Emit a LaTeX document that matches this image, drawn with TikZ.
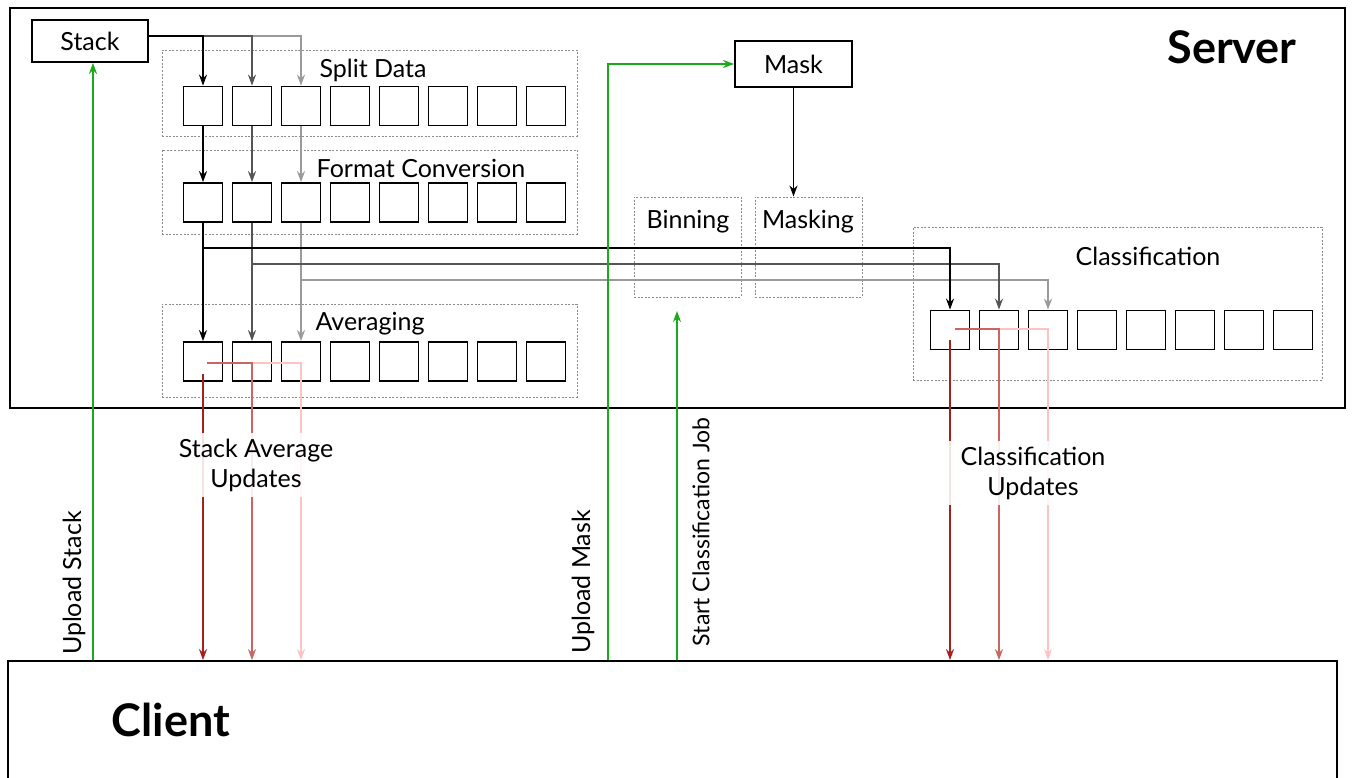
\documentclass[tikz,border=0pt]{standalone}
\usepackage{fontspec}
\setmainfont{Lato}
\usetikzlibrary{arrows.meta,calc}
\definecolor{gA}{HTML}{000000}
\definecolor{gB}{HTML}{555555}
\definecolor{gC}{HTML}{9A9A9A}
\definecolor{rA}{HTML}{A3221E}
\definecolor{rB}{HTML}{CC6464}
\definecolor{rC}{HTML}{FFC2C2}
\definecolor{grn}{HTML}{1AAA1A}
\definecolor{dashc}{HTML}{8A8A8A}
\begin{document}
\begin{tikzpicture}[x=1pt,y=-1pt,
  cell/.style={draw, line width=1.8pt, minimum width=39pt, minimum height=39pt, inner sep=0pt, fill=white},
  grp/.style={draw=dashc, line width=1pt, dash pattern=on 2pt off 1.6pt, inner sep=0pt},
  lbl/.style={font=\fontsize{25}{30}\selectfont, inner sep=1pt},
  big/.style={font=\fontsize{45}{50}\selectfont\bfseries, inner sep=0pt},
  solid box/.style={draw, line width=1.8pt, inner sep=0pt, font=\fontsize{25}{30}\selectfont},
  arr/.style={-{Stealth[length=11pt,width=8pt]}, line width=1.8pt},
  upd/.style={lbl, align=center, fill=white, fill opacity=0.88, text opacity=1, inner xsep=16pt, inner ysep=6pt},
  vlbl/.style={lbl, rotate=90}
]
\useasboundingbox (0,0) rectangle (1353,777);
% main frames
\node[draw, line width=1.8pt, minimum width=1335pt, minimum height=400pt, inner sep=0pt] (server) at (677.5,208) {};
\node[draw, line width=1.8pt, minimum width=1329pt, minimum height=160pt, inner sep=0pt] (client) at (672.5,741) {};
\node[big] (servertxt) at (1232,47) {Server};
\node[big] (clienttxt) at (171,720) {Client};

% group frames
\node[grp, minimum width=415pt, minimum height=86pt] (gsplit) at (369.5,93) {};
\node[grp, minimum width=415pt, minimum height=84pt] (gformat) at (369.5,192) {};
\node[grp, minimum width=415pt, minimum height=93pt] (gavg) at (369.5,350.5) {};
\node[grp, minimum width=107pt, minimum height=100pt] (binning) at (687.5,247) {};
\node[grp, minimum width=107pt, minimum height=100pt] (masking) at (808.5,247) {};
\node[grp, minimum width=409pt, minimum height=153pt] (gclass) at (1117.5,303.5) {};

\node[lbl] (lsplit) at (373,70) {Split Data};
\node[lbl] (lformat) at (421,168) {Format Conversion};
\node[lbl] (lavg) at (370,324) {Averaging};
\node[lbl] (lbin) at (688,222) {Binning};
\node[lbl] (lmask) at (808,222) {Masking};
\node[lbl] (lclass) at (1148,256) {Classification};

% cells
\foreach \i in {1,...,8} {
  \node[cell] (s\i) at ({203+49*(\i-1)},106) {};
  \node[cell] (f\i) at ({203+49*(\i-1)},202.5) {};
  \node[cell] (a\i) at ({203+49*(\i-1)},361.5) {};
  \node[cell] (c\i) at ({950+49*(\i-1)},330) {};
}

% stack & mask
\node[solid box, minimum width=116pt, minimum height=42pt] (stack) at (90,41) {Stack};
\node[solid box, minimum width=117pt, minimum height=46pt] (mask) at (793.5,64) {Mask};

% stack -> split
\draw[arr, gC] ([yshift=5pt]stack.east) -| (s3.north);
\draw[arr, gB] ([yshift=5pt]stack.east) -| (s2.north);
\draw[arr, gA] ([yshift=5pt]stack.east) -| (s1.north);
% split -> format
\draw[arr, gA] (s1.south) -- (f1.north);
\draw[arr, gB] (s2.south) -- (f2.north);
\draw[arr, gC] (s3.south) -- (f3.north);
% format -> averaging
\draw[arr, gA] (f1.south) -- (a1.north);
\draw[arr, gB] (f2.south) -- (a2.north);
\draw[arr, gC] (f3.south) -- (a3.north);
% format -> classification
\coordinate (h1) at (0,248);
\coordinate (h2) at (0,264);
\coordinate (h3) at (0,280);
\draw[arr, gC] (f3.south) |- (c3 |- h3) -- (c3.north);
\draw[arr, gB] (f2.south) |- (c2 |- h2) -- (c2.north);
\draw[arr, gA] (f1.south) |- (c1 |- h1) -- (c1.north);
% mask -> masking
\draw[arr, gA] (mask.south) -- (mask.south |- masking.north);

% updates to client
\draw[arr, rC] ([xshift=4pt,yshift=-1.5pt]a1.center) -| (a3 |- client.north);
\draw[arr, rB] ([xshift=4pt,yshift=-1.5pt]a1.center) -| (a2 |- client.north);
\draw[arr, rA] ([yshift=-12pt]a1.center) -- (a1 |- client.north);
\draw[arr, rC] ([xshift=5pt,yshift=1pt]c1.center) -| (c3 |- client.north);
\draw[arr, rB] ([xshift=5pt,yshift=1pt]c1.center) -| (c2 |- client.north);
\draw[arr, rA] ([yshift=-10pt]c1.center) -- (c1 |- client.north);

\node[upd] (lsau) at (256,465) {Stack Average\\Updates};
\node[upd] (lcu) at (1033,473) {Classification\\Updates};

% green uploads
\coordinate (us) at (93,660);
\coordinate (um) at (608,660);
\coordinate (sc) at (677,660);
\coordinate (scend) at (677,311);
\draw[arr, grn] (us) -- (us |- stack.south);
\draw[arr, grn] (um) |- (mask.west);
\draw[arr, grn] (sc) -- (scend);

\node[vlbl] (lus) at (74,583) {Upload Stack};
\node[vlbl] (lum) at (583,582) {Upload Mask};
\node[vlbl, font=\fontsize{23}{28}\selectfont] (lsc) at (701,532) {Start Classification Job};
\end{tikzpicture}
\end{document}
